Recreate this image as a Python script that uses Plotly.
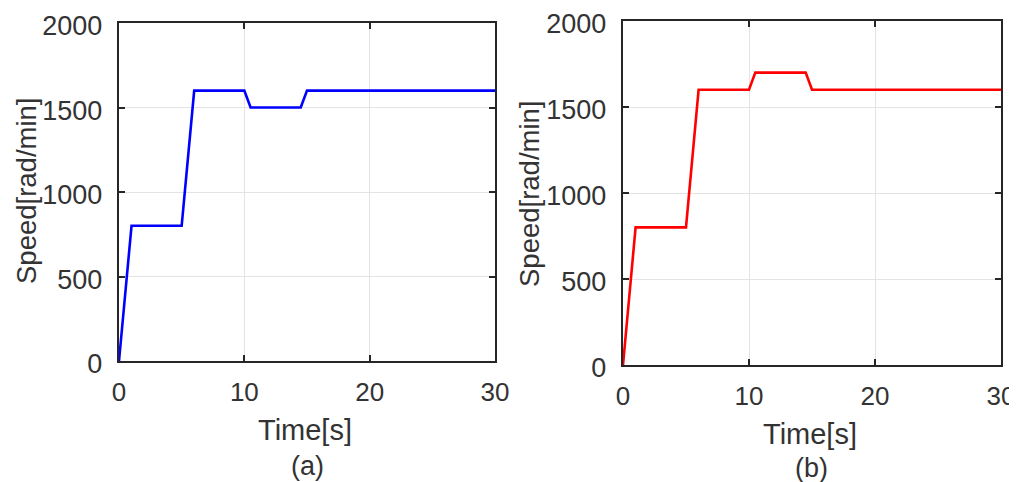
import plotly.graph_objects as go

# Data
time_a = [0, 1, 5, 6, 10, 10.5, 14.5, 15, 30]
speed_a = [0, 800, 800, 1600, 1600, 1500, 1500, 1600, 1600]
time_b = [0, 1, 5, 6, 10, 10.5, 14.5, 15, 30]
speed_b = [0, 800, 800, 1600, 1600, 1700, 1700, 1600, 1600]
x_ticks = [0, 10, 20, 30]
y_ticks = [0, 500, 1000, 1500, 2000]

TXT = "#333333"
FONT = "Liberation Sans, Arial, sans-serif"
OFF = 8  # page body margin
W, H = 1017 - OFF, 482 - OFF

def fx(px):
    return (px - OFF) / W

def fy(py):
    return 1 - (py - OFF) / H

fig = go.Figure()
fig.add_trace(go.Scatter(x=time_a, y=speed_a, mode="lines",
                         line=dict(color="#0000ff", width=2.6),
                         xaxis="x", yaxis="y", showlegend=False))
fig.add_trace(go.Scatter(x=time_b, y=speed_b, mode="lines",
                         line=dict(color="#ff0000", width=2.6),
                         xaxis="x2", yaxis="y2", showlegend=False))

def xa(domain, anchor):
    return dict(domain=domain, anchor=anchor, range=[0, 30], tickvals=x_ticks,
                showgrid=True, gridcolor="#e3e3e3", gridwidth=1.2,
                showline=True, linecolor="#262626", linewidth=2.4,
                mirror="allticks", ticks="inside", ticklen=6, tickwidth=2,
                tickcolor="#262626", zeroline=False, automargin=False,
                ticklabeloverflow="allow",
                tickfont=dict(family=FONT, size=26, color=TXT),
                ticklabelstandoff=7)

def ya(domain, anchor):
    return dict(domain=domain, anchor=anchor, range=[0, 2000], tickvals=y_ticks,
                showgrid=True, gridcolor="#e3e3e3", gridwidth=1.2,
                showline=True, linecolor="#262626", linewidth=2.4,
                mirror="allticks", ticks="inside", ticklen=6, tickwidth=2,
                tickcolor="#262626", zeroline=False, automargin=False,
                ticklabeloverflow="allow", ticklabelshift=3,
                tickfont=dict(family=FONT, size=27, color=TXT),
                ticklabelstandoff=9)

fig.update_layout(
    width=W, height=H,
    margin=dict(l=0, r=0, t=0, b=0, pad=0, autoexpand=False),
    paper_bgcolor="white", plot_bgcolor="white",
    xaxis=xa([fx(119), fx(495)], "y"),
    yaxis=ya([fy(361), fy(23)], "x"),
    xaxis2=xa([fx(623), fx(1001)], "y2"),
    yaxis2=ya([fy(365), fy(21)], "x2"),
)

def ann(text, x, y, size, angle=0):
    fig.add_annotation(text=text, x=fx(x), y=fy(y), xref="paper", yref="paper",
                       showarrow=False, textangle=angle, xanchor="center", yanchor="middle",
                       font=dict(family=FONT, size=size, color=TXT))

ann("Speed[rad/min]", 26, 191, 27.5, -90)
ann("Speed[rad/min]", 529, 194, 27.5, -90)
ann("Time[s]", 305, 430, 29)
ann("Time[s]", 810, 434, 29)
ann("(a)", 307, 466, 27)
ann("(b)", 811, 468, 27)

fig.write_html("out.html")
